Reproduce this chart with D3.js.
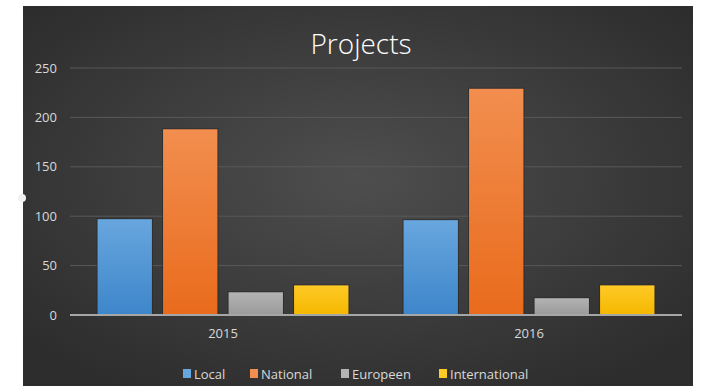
<!DOCTYPE html>
<html>
<head>
<meta charset="utf-8">
<script src="https://cdn.jsdelivr.net/npm/d3@7"></script>
<style>
  body { margin: 0; background: #fff; }
  svg { display: block; }
</style>
</head>
<body>
<svg width="702" height="386"></svg>
<script>
const years = ["2015", "2016"];
const series = ["Local", "National", "Europeen", "International"];
const local = [97, 96];
const national = [188, 229];
const europeen = [23, 17];
const international = [30, 30];
const yTicks = [0, 50, 100, 150, 200, 250];

const colors = {
    "Local": ["#68a6de", "#3d86ca"],
    "National": ["#f28e4f", "#e96b1c"],
    "Europeen": ["#b3b3b3", "#9a9a9a"],
    "International": ["#ffc926", "#f5b800"]
};

const valuesBySeries = { "Local": local, "National": national, "Europeen": europeen, "International": international };
const data = years.map(function(y, i) {
    return { year: y, values: series.map(function(s) { return { key: s, value: valuesBySeries[s][i] }; }) };
});

const svg = d3.select("svg");
const defs = svg.append("defs");

// background panel
const bg = defs.append("radialGradient").attr("id", "bg")
    .attr("cx", "50%").attr("cy", "45%").attr("r", "65%");
bg.append("stop").attr("offset", "0%").attr("stop-color", "#4e4e4e");
bg.append("stop").attr("offset", "100%").attr("stop-color", "#2d2d2d");

series.forEach(function(s, i) {
    const g = defs.append("linearGradient").attr("id", "g" + i)
        .attr("x1", 0).attr("y1", 0).attr("x2", 0).attr("y2", 1);
    g.append("stop").attr("offset", "0%").attr("stop-color", colors[s][0]);
    g.append("stop").attr("offset", "100%").attr("stop-color", colors[s][1]);
});

svg.append("rect")
    .attr("x", 23).attr("y", 6)
    .attr("width", 670).attr("height", 380)
    .attr("fill", "url(#bg)");

// little white mark on the left edge
svg.append("circle").attr("cx", 22).attr("cy", 198).attr("r", 4).attr("fill", "#f2f2f2");

svg.append("text")
    .attr("x", 361).attr("y", 54)
    .attr("text-anchor", "middle")
    .attr("font-family", "Open Sans")
    .attr("font-weight", 300)
    .attr("font-size", "28px")
    .attr("fill", "#ffffff")
    .text("Projects");

const x0 = d3.scaleBand()
    .domain(years)
    .range([70, 682])
    .paddingInner(0.18)
    .paddingOuter(0.09);

const x1 = d3.scaleBand()
    .domain(series)
    .range([0, x0.bandwidth()])
    .paddingInner(0.17);

const y = d3.scaleLinear()
    .domain([0, 250])
    .range([315, 68]);

// gridlines
svg.append("g")
    .selectAll("line")
    .data(yTicks.filter(function(d) { return d > 0; }))
    .enter().append("line")
    .attr("x1", 70).attr("x2", 682)
    .attr("y1", function(d) { return y(d); })
    .attr("y2", function(d) { return y(d); })
    .attr("stroke", "#595959")
    .attr("stroke-width", 1);

// y axis labels
const yAxis = svg.append("g")
    .attr("transform", "translate(60,0)")
    .call(d3.axisLeft(y).tickValues(yTicks).tickSize(0).tickPadding(3));
yAxis.select(".domain").remove();
yAxis.selectAll("text")
    .attr("font-family", "Open Sans")
    .attr("font-size", "13px")
    .attr("fill", "#d9d9d9");

// bars
const groups = svg.append("g")
    .selectAll("g")
    .data(data)
    .enter().append("g")
    .attr("transform", function(d) { return "translate(" + x0(d.year) + ",0)"; });

groups.selectAll("rect.shadow")
    .data(function(d) { return d.values; })
    .enter().append("rect")
    .attr("class", "shadow")
    .attr("x", function(d) { return x1(d.key) - 1; })
    .attr("y", function(d) { return y(d.value) - 1; })
    .attr("width", x1.bandwidth() + 2)
    .attr("height", function(d) { return y(0) - y(d.value) + 1; })
    .attr("fill", "#262626")
    .attr("opacity", 0.6);

groups.selectAll("rect.bar")
    .data(function(d) { return d.values; })
    .enter().append("rect")
    .attr("class", "bar")
    .attr("x", function(d) { return x1(d.key); })
    .attr("y", function(d) { return y(d.value); })
    .attr("width", x1.bandwidth())
    .attr("height", function(d) { return y(0) - y(d.value); })
    .attr("fill", function(d) { return "url(#g" + series.indexOf(d.key) + ")"; });

// baseline
svg.append("line")
    .attr("x1", 70).attr("x2", 682)
    .attr("y1", y(0)).attr("y2", y(0))
    .attr("stroke", "#a6a6a6")
    .attr("stroke-width", 2);

// x axis labels
const xAxis = svg.append("g")
    .attr("transform", "translate(0," + y(0) + ")")
    .call(d3.axisBottom(x0).tickSize(0).tickPadding(14));
xAxis.select(".domain").remove();
xAxis.selectAll("text")
    .attr("font-family", "Open Sans")
    .attr("font-size", "13px")
    .attr("fill", "#d9d9d9");

// legend
const legendX = [183, 250, 341, 439];
const legend = svg.append("g")
    .selectAll("g")
    .data(series)
    .enter().append("g")
    .attr("transform", function(d, i) { return "translate(" + legendX[i] + ",369)"; });
legend.append("rect")
    .attr("width", 8).attr("height", 9)
    .attr("fill", function(d) { return colors[d][0]; });
legend.append("text")
    .attr("x", 11).attr("y", 10)
    .attr("font-family", "Open Sans")
    .attr("font-size", "13px")
    .attr("fill", "#d9d9d9")
    .text(function(d) { return d; });
</script>
</body>
</html>
